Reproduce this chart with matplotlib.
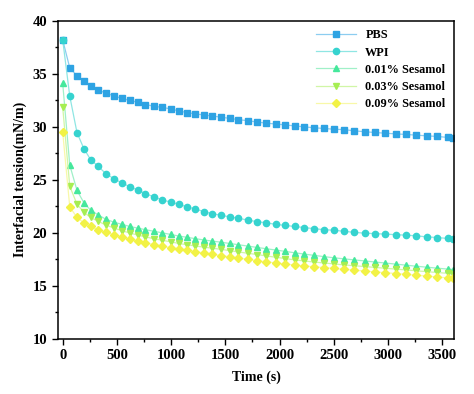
import matplotlib
matplotlib.use("Agg")
import matplotlib.pyplot as plt
from matplotlib.ticker import MultipleLocator

plt.rcParams['font.family'] = ['Liberation Serif', 'DejaVu Serif']
plt.rcParams['font.weight'] = 'bold'

# Temps (s)
temps = [0, 65, 132, 195, 258, 325, 396, 473, 548, 620,
         690, 763, 840, 920, 996, 1070, 1147, 1224, 1303, 1381,
         1458, 1540, 1620, 1709, 1796, 1879, 1965, 2054, 2140, 2226,
         2315, 2408, 2500, 2592, 2687, 2786, 2878, 2977, 3072, 3170,
         3262, 3360, 3452, 3554, 3600]

pbs = [38.2, 35.57, 34.81, 34.31, 33.84, 33.46, 33.21, 32.92, 32.68, 32.49,
       32.33, 32.11, 31.95, 31.83, 31.7, 31.5, 31.35, 31.22, 31.12, 31.02,
       30.92, 30.8, 30.68, 30.58, 30.45, 30.35, 30.27, 30.18, 30.09, 30.0,
       29.92, 29.85, 29.78, 29.74, 29.63, 29.54, 29.47, 29.4, 29.34, 29.28,
       29.22, 29.15, 29.1, 29.0, 28.97]

wpi = [38.2, 32.9, 29.45, 27.95, 26.9, 26.3, 25.6, 25.1, 24.7, 24.35,
       24.05, 23.7, 23.4, 23.1, 22.9, 22.7, 22.45, 22.25, 22.0, 21.8,
       21.67, 21.5, 21.38, 21.2, 21.05, 20.95, 20.8, 20.7, 20.6, 20.5,
       20.4, 20.3, 20.25, 20.15, 20.05, 19.97, 19.93, 19.88, 19.83, 19.78,
       19.72, 19.62, 19.56, 19.47, 19.42]

ses_001 = [34.1, 26.4, 24.0, 22.85, 22.14, 21.7, 21.3, 21.0, 20.8, 20.6,
           20.45, 20.3, 20.15, 20.0, 19.85, 19.7, 19.58, 19.45, 19.33, 19.22,
           19.12, 19.0, 18.88, 18.75, 18.62, 18.5, 18.38, 18.25, 18.12, 18.0,
           17.88, 17.76, 17.65, 17.55, 17.45, 17.35, 17.25, 17.15, 17.05, 16.95,
           16.85, 16.76, 16.67, 16.58, 16.54]

ses_003 = [31.85, 24.4, 22.7, 21.95, 21.45, 21.1, 20.75, 20.45, 20.2, 19.98,
           19.8, 19.62, 19.45, 19.3, 19.15, 19.0, 18.88, 18.76, 18.65, 18.55,
           18.45, 18.32, 18.2, 18.07, 17.95, 17.82, 17.7, 17.57, 17.45, 17.35,
           17.25, 17.16, 17.07, 16.98, 16.9, 16.82, 16.74, 16.66, 16.58, 16.5,
           16.42, 16.34, 16.26, 16.18, 16.14]

ses_009 = [29.5, 22.45, 21.45, 20.95, 20.6, 20.3, 20.05, 19.82, 19.6, 19.4,
           19.22, 19.05, 18.9, 18.75, 18.6, 18.47, 18.35, 18.23, 18.1, 17.98,
           17.86, 17.74, 17.62, 17.5, 17.38, 17.27, 17.16, 17.06, 16.96, 16.88,
           16.8, 16.72, 16.64, 16.56, 16.48, 16.4, 16.32, 16.24, 16.16, 16.08,
           16.0, 15.92, 15.84, 15.75, 15.7]

series = [
    ('PBS', pbs, 's', '#2ea3e3', '#8ccdf0'),
    ('WPI', wpi, 'o', '#36d3cf', '#8fe6e3'),
    ('0.01% Sesamol', ses_001, '^', '#45e89c', '#a0f0c8'),
    ('0.03% Sesamol', ses_003, 'v', '#a6ee52', '#d0f6a6'),
    ('0.09% Sesamol', ses_009, 'D', '#f2f246', '#f8f8a8'),
]

fig, ax = plt.subplots(figsize=(4.74, 3.94), dpi=100)
fig.subplots_adjust(left=0.122, right=0.958, top=0.947, bottom=0.14)

for nom, valeurs, marq, coul, coul_ligne in series:
    taille = 3.8 if marq == 'D' else 4.5
    ax.plot(temps, valeurs, marker=marq, color=coul_ligne, lw=0.9,
            markerfacecolor=coul, markeredgecolor=coul, markersize=taille,
            label=nom)

ax.set_xlim(-45, 3610)
ax.set_ylim(10, 40)
ax.xaxis.set_major_locator(MultipleLocator(500))
ax.xaxis.set_minor_locator(MultipleLocator(250))
ax.yaxis.set_major_locator(MultipleLocator(5))
ax.yaxis.set_minor_locator(MultipleLocator(2.5))
ax.tick_params(which='major', direction='out', length=4, width=1, labelsize=10.5)
ax.tick_params(which='minor', direction='out', length=2.5, width=1)
for s in ax.spines.values():
    s.set_linewidth(1.1)

ax.set_xlabel('Time (s)', fontsize=10, fontweight='bold', labelpad=6)
ax.set_ylabel('Interfacial tension(mN/m)', fontsize=10, fontweight='bold')

leg = ax.legend(loc='upper right', frameon=False, fontsize=8.8,
                handlelength=3.2, labelspacing=0.42, borderaxespad=0.3,
                bbox_to_anchor=(1.0, 1.0))

fig.savefig('out.png', dpi=100)
